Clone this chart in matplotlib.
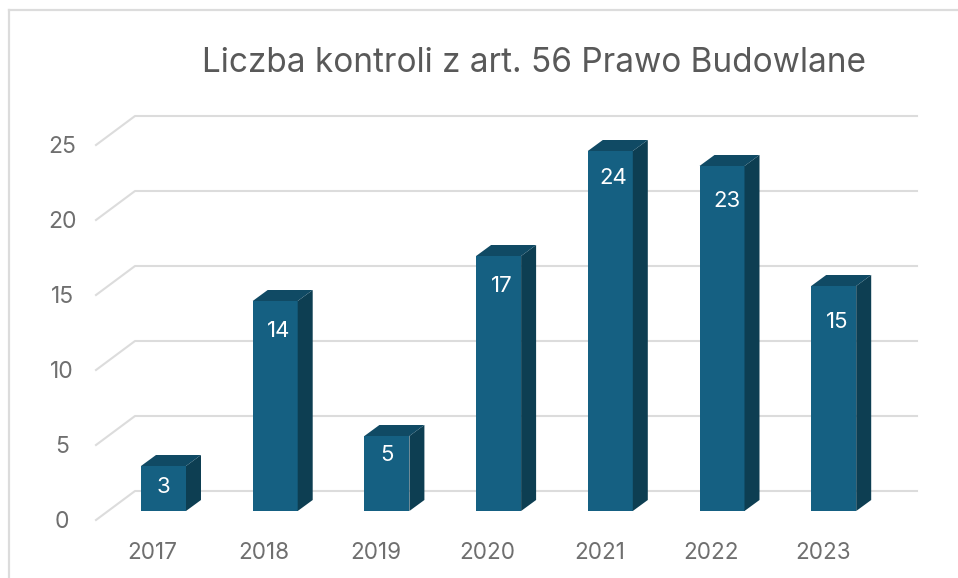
import matplotlib
matplotlib.use("Agg")
import matplotlib.pyplot as plt
from matplotlib.patches import Polygon

# data
years = ["2017", "2018", "2019", "2020", "2021", "2022", "2023"]
counts = [3, 14, 5, 17, 24, 23, 15]
y_ticks = [0, 5, 10, 15, 20, 25]
title = "Liczba kontroli z art. 56 Prawo Budowlane"

# layout, all in pixels of the 958x578 picture
W, H = 958, 578
base_px, unit_px = 511, 15
first_px, step_px = 163.5, 111.7
bar_px = 45
depth_x, depth_y = 15, 11
label_drop = [21, 30, 19, 30, 27, 35, 36]
label_shift = [0, 3, 0, 3, 3, 5, 3]

FRONT = "#156082"
SIDE = "#0D3E52"
TOP = "#104A64"
GRID = "#DCDCDC"
TICK = "#6F6F6F"

plt.rcParams["font.family"] = ["Inter", "DejaVu Sans"]
fig = plt.figure(figsize=(W / 100, H / 100), dpi=100)
ax = fig.add_axes([0, 0, 1, 1])
ax.set_xlim(-first_px / step_px, (W - first_px) / step_px)
ax.set_ylim((base_px - H) / unit_px, base_px / unit_px)
ax.axis("off")

# px to data helpers for offsets
dx = depth_x / step_px
dy = depth_y / unit_px
half = bar_px / 2 / step_px

# frame of the chart area
ax.plot([(9 - first_px) / step_px] * 2, [(base_px - H) / unit_px, (base_px - 10) / unit_px], color=GRID, lw=1.6)
ax.plot([(9 - first_px) / step_px, (W - first_px) / step_px], [(base_px - 10) / unit_px] * 2, color=GRID, lw=1.6)

# back wall gridlines with the slanted side wall
x0 = (96 - first_px) / step_px
x1 = (135 - first_px) / step_px
x2 = (917 - first_px) / step_px
for v in y_ticks:
    ax.plot([x0, x1, x2], [v - 9 / unit_px, v + 20 / unit_px, v + 20 / unit_px], color=GRID, lw=1.5, zorder=1)
    ax.text((62 - first_px) / step_px, v - 11 / unit_px, str(v), color=TICK, fontsize=16.5, ha="center", va="center")

for i, (year, n) in enumerate(zip(years, counts)):
    l, r = i - half, i + half
    ax.add_patch(Polygon([(l, 0), (r, 0), (r, n), (l, n)], closed=True, fc=FRONT, ec="none", zorder=3))
    ax.add_patch(Polygon([(r, 0), (r + dx, dy), (r + dx, n + dy), (r, n)], closed=True, fc=SIDE, ec="none", zorder=3))
    ax.add_patch(Polygon([(l, n), (r, n), (r + dx, n + dy), (l + dx, n + dy)], closed=True, fc=TOP, ec="none", zorder=3))
    ax.text(i + label_shift[i] / step_px, n - label_drop[i] / unit_px, str(n), color="white", fontsize=16,
            ha="center", va="center", zorder=4)
    ax.text(i - 11 / step_px, -42 / unit_px, year, color=TICK, fontsize=16.2, ha="center", va="center")

ax.text((534 - first_px) / step_px, (base_px - 63) / unit_px, title, color="#595959", fontsize=24,
        ha="center", va="center")

fig.savefig("out.png", dpi=100)
